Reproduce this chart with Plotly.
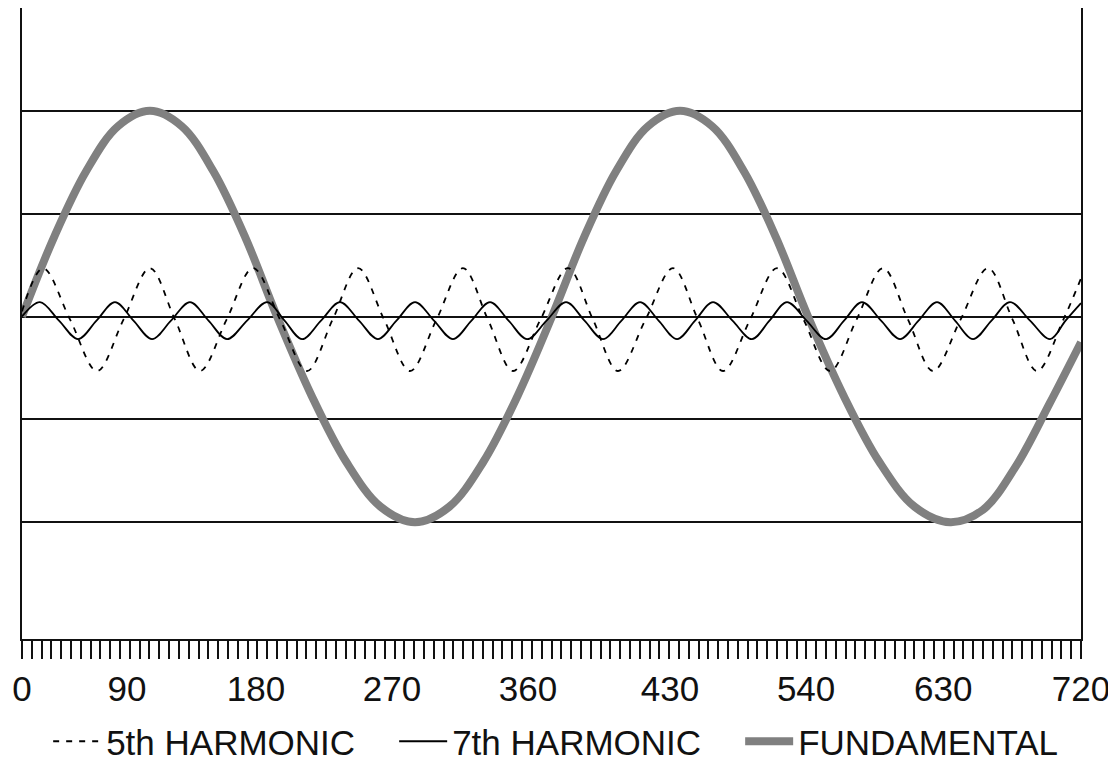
import plotly.graph_objects as go

# ---- data (x in degrees, y in grid units) ----
fund_x = [0, 21.75, 43.5, 65.25, 87.0, 108.6, 130.2, 151.8, 173.4, 196.9, 220.3, 243.8,
          267.2, 290.5, 313.8, 337.0, 360.3, 382.1, 403.8, 425.6, 447.4, 469.2, 490.9,
          512.6, 534.4, 558.6, 582.7, 606.9, 631.0, 653.3, 676.0, 698.5, 720]
fund_y = [0, 0.77, 1.41, 1.85, 2.0, 1.85, 1.41, 0.77, 0, -0.77, -1.41, -1.85,
          -2.0, -1.85, -1.41, -0.77, 0, 0.77, 1.41, 1.85, 2.0, 1.85, 1.41,
          0.77, 0, -0.77, -1.41, -1.85, -2.0, -1.88, -1.45, -0.85, -0.25]

h5_x = [0, 14.3, 32.7, 51.0, 69.0, 87.0, 104.0, 121.0, 139.1, 157.1, 175.5, 193.8,
        211.2, 228.5, 246.2, 263.8, 281.8, 299.8, 316.8, 333.8, 352.5, 371.2, 388.2,
        405.2, 423.9, 442.6, 459.6, 476.6, 495.0, 513.3, 531.4, 549.4, 567.4, 585.4,
        602.4, 619.4, 638.1, 656.8, 673.5, 690.1, 708.0, 720]
h5_y = [0.05, 0.47, -0.03, -0.53, -0.03, 0.47, -0.03, -0.53, -0.03, 0.47, -0.03, -0.53,
        -0.03, 0.47, -0.03, -0.53, -0.03, 0.47, -0.03, -0.53, -0.03, 0.47, -0.03,
        -0.53, -0.03, 0.47, -0.03, -0.53, -0.03, 0.47, -0.03, -0.53, -0.03, 0.47,
        -0.03, -0.53, -0.03, 0.47, -0.03, -0.53, -0.03, 0.37]

h7_x = [0, 12.2, 25.15, 38.1, 50.65, 63.2, 75.8, 88.4, 101.3, 114.2, 126.8, 139.4,
        153.0, 166.6, 178.5, 190.4, 203.3, 216.2, 229.1, 242.0, 254.6, 267.2, 280.1,
        293.0, 305.6, 318.2, 330.8, 343.4, 356.65, 369.9, 382.45, 395.0, 407.6, 420.2,
        432.8, 445.4, 457.6, 469.8, 483.05, 496.3, 508.2, 520.1, 533.4, 546.7, 558.9,
        571.1, 584.05, 597.0, 609.55, 622.1, 634.35, 646.6, 659.15, 671.7, 685.35,
        699.0, 709.5, 720]
h7_y = [0.0, 0.14, -0.04, -0.22, -0.04, 0.14, -0.04, -0.22, -0.04, 0.14, -0.04, -0.22,
        -0.04, 0.14, -0.04, -0.22, -0.04, 0.14, -0.04, -0.22, -0.04, 0.14, -0.04,
        -0.22, -0.04, 0.14, -0.04, -0.22, -0.04, 0.14, -0.04, -0.22, -0.04, 0.14,
        -0.04, -0.22, -0.04, 0.14, -0.04, -0.22, -0.04, 0.14, -0.04, -0.22, -0.04,
        0.14, -0.04, -0.22, -0.04, 0.14, -0.04, -0.22, -0.04, 0.14, -0.04,
        -0.22, -0.04, 0.13]

tick_labels = ["0", "90", "180", "270", "360", "430", "540", "630", "720"]
tick_pos = [0, 71.4, 159.1, 251.6, 344.0, 440.6, 533.1, 626.3, 720]

FONT = "Liberation Sans, Arial, sans-serif"

fig = go.Figure()
fig.add_trace(go.Scatter(x=fund_x, y=fund_y, mode="lines", name="FUNDAMENTAL",
                         line=dict(color="#808080", width=8, shape="spline", smoothing=1.0),
                         legendrank=3))
fig.add_trace(go.Scatter(x=h5_x, y=h5_y, mode="lines", name="5th HARMONIC",
                         line=dict(color="black", width=1.8, dash="6px,7px",
                                   shape="spline", smoothing=1.0),
                         legendrank=1))
fig.add_trace(go.Scatter(x=h7_x, y=h7_y, mode="lines", name="7th HARMONIC",
                         line=dict(color="black", width=1.8, shape="spline", smoothing=1.0),
                         legendrank=2))

fig.update_layout(
    width=1116, height=764,
    margin=dict(l=14, r=43, t=0, b=133, autoexpand=False),
    paper_bgcolor="white", plot_bgcolor="white",
    font=dict(family=FONT, color="#111111"),
    showlegend=True,
    legend=dict(orientation="h", x=0.0247, xanchor="left", y=-0.1157, yanchor="top",
                font=dict(size=35, family=FONT, color="#111111"),
                itemwidth=48, entrywidth=283, entrywidthmode="pixels",
                traceorder="normal", bgcolor="rgba(0,0,0,0)"),
    xaxis=dict(range=[0, 720], tickmode="array", tickvals=tick_pos, ticktext=tick_labels,
               ticks="outside", ticklen=18, tickcolor="rgba(0,0,0,0)",
               tickfont=dict(size=35, family=FONT, color="#111111"),
               showgrid=False, zeroline=False,
               showline=True, linecolor="#111111", linewidth=2, mirror=True,
               minor=dict(ticks="outside", ticklen=18, tickwidth=1.5, tickcolor="#111111",
                          tickmode="linear", tick0=0, dtick=720/108, showgrid=False)),
    yaxis=dict(range=[-3.136, 3.0], tickmode="array", tickvals=[-2, -1, 0, 1, 2],
               showticklabels=False, ticks="",
               showgrid=True, gridcolor="#111111", gridwidth=1.5,
               zeroline=True, zerolinecolor="#111111", zerolinewidth=1.5,
               showline=True, linecolor="#111111", linewidth=2, mirror=True),
)

fig.write_html("out.html")
